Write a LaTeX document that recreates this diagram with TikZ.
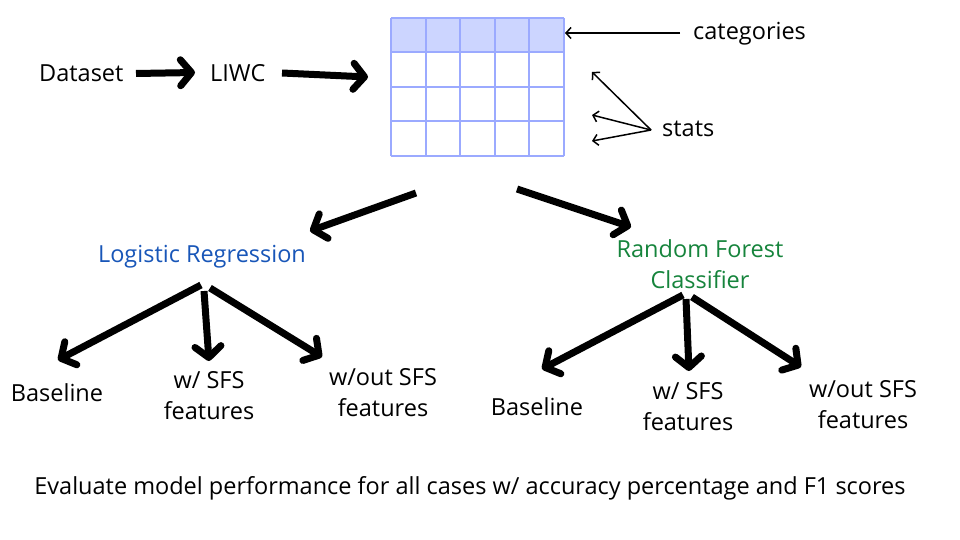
\documentclass[tikz,border=0pt]{standalone}
\usepackage{fontspec}
\setmainfont{Open Sans}
\usetikzlibrary{arrows.meta}
\definecolor{gridline}{RGB}{155,170,255}
\definecolor{gridfill}{RGB}{204,213,255}
\definecolor{lrblue}{RGB}{24,86,184}
\definecolor{rfgreen}{RGB}{22,132,60}
\tikzset{
  lbl/.style={font=\fontsize{23.5}{31}\selectfont, text=black, inner sep=0pt, align=center, yshift=-1.2pt},
  big/.style={line width=7pt, -{Straight Barb[length=11pt,width=26pt,round]}},
  thin/.style={line width=1.5pt, -{Straight Barb[length=5pt,width=11pt]}},
  gl/.style={gridline, line width=2pt},
}
\begin{document}
\begin{tikzpicture}[x=1pt,y=-1pt]
\useasboundingbox (0,0) rectangle (960,540);
% grid
\fill[gridfill] (391,18) rectangle (564,52.5);
\foreach \gx in {391,425.6,460.2,494.8,529.4,564} \draw[gl] (\gx,18) -- (\gx,156);
\foreach \gy in {18,52.5,87,121.5,156} \draw[gl] (391,\gy) -- (564,\gy);
\node[inner sep=0pt, minimum width=173pt, minimum height=138pt] (grid) at (477.5,87) {};

\node[lbl, anchor=west] (dataset) at (39,72) {Dataset};
\node[lbl, anchor=west] (liwc) at (210,72) {LIWC};
\node[lbl, anchor=west] (cat) at (693,33) {categories};
\node[lbl, anchor=west] (stats) at (662,128) {stats};

\node[lbl, text=lrblue] (lr) at (202,255) {Logistic Regression};
\node[lbl, text=rfgreen] (rf) at (700,263) {Random Forest\\Classifier};

\node[lbl] (lrbase) at (57,391) {Baseline};
\node[lbl] (lrw) at (209,394) {w/ SFS\\features};
\node[lbl] (lrwo) at (383,391) {w/out SFS\\features};
\node[lbl] (rfbase) at (537,405) {Baseline};
\node[lbl] (rfw) at (688,405) {w/ SFS\\features};
\node[lbl] (rfwo) at (863,403) {w/out SFS\\features};

\node[lbl] (eval) at (470,487) {Evaluate model performance for all cases w/ accuracy percentage and F1 scores};

% coordinates
\coordinate (d1) at (136,73.5);
\coordinate (d2) at (195,72.5);
\coordinate (l1) at (282,73);
\coordinate (l2) at (368,77);
\coordinate (c1) at (680,33);
\coordinate (c2) at (565,33);
\coordinate (s0) at (651,130);
\coordinate (s1) at (592,72);
\coordinate (s2) at (592,115);
\coordinate (s3) at (592,141);
\coordinate (g1) at (416,193);
\coordinate (g2) at (310,231);
\coordinate (g3) at (517,189);
\coordinate (g4) at (631,227);
\coordinate (a0) at (201,285);
\coordinate (a1) at (58,360);
\coordinate (b0) at (204,291);
\coordinate (b1) at (209,361);
\coordinate (c0) at (210,288);
\coordinate (c3) at (322,357);
\coordinate (e0) at (683,295);
\coordinate (e1) at (542,369);
\coordinate (f0) at (686,299);
\coordinate (f1) at (689,371);
\coordinate (h0) at (692,297);
\coordinate (h1) at (801,367);

\draw[big] (d1) -- (d2);
\draw[big] (l1) -- (l2);
\draw[thin] (c1) -- (c2);
\draw[thin] (s0) -- (s1);
\draw[thin] (s0) -- (s2);
\draw[thin] (s0) -- (s3);
\draw[big] (g1) -- (g2);
\draw[big] (g3) -- (g4);
\draw[big] (a0) -- (a1);
\draw[big] (b0) -- (b1);
\draw[big] (c0) -- (c3);
\draw[big] (e0) -- (e1);
\draw[big] (f0) -- (f1);
\draw[big] (h0) -- (h1);
\end{tikzpicture}
\end{document}
